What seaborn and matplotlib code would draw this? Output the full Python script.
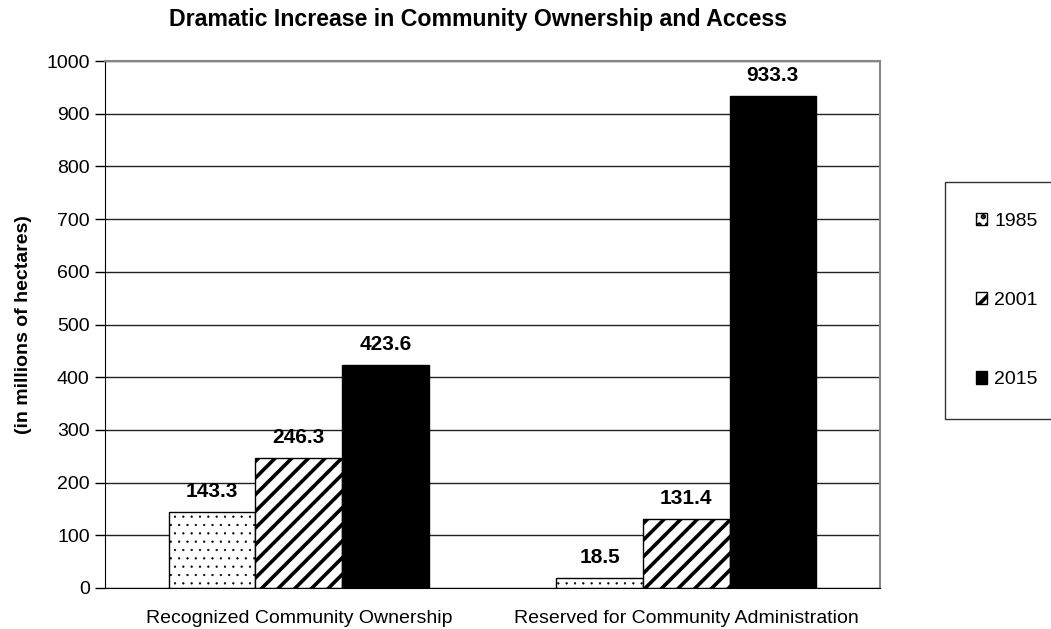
import pandas as pd
import matplotlib.pyplot as plt
import seaborn as sns

# data
categories = ["Recognized Community Ownership", "Reserved for Community Administration"]
years = ["1985", "2001", "2015"]
v1985 = [143.3, 18.5]
v2001 = [246.3, 131.4]
v2015 = [423.6, 933.3]

rows = []
for yr, vals in zip(years, [v1985, v2001, v2015]):
    for cat, v in zip(categories, vals):
        rows.append({"category": cat, "year": yr, "value": v})
df = pd.DataFrame(rows)

sns.set_style("white")
plt.rcParams['font.family'] = ['Liberation Sans', 'DejaVu Sans']
plt.rcParams['hatch.linewidth'] = 2.6
plt.rcParams['text.color'] = 'black'
plt.rcParams['axes.labelcolor'] = 'black'
plt.rcParams['xtick.color'] = 'black'
plt.rcParams['ytick.color'] = 'black'

fig = plt.figure(figsize=(10.51, 6.29), dpi=100)
ax = fig.add_axes([105/1051, 1 - 588/629, (880-105)/1051, (588-61)/629])

sns.barplot(data=df, x="category", y="value", hue="year", order=categories,
            hue_order=years, palette=["white", "white", "black"],
            edgecolor="black", linewidth=1, width=0.67, gap=0, ax=ax)

hatches = ["..", "//", ""]
for cont, h in zip(ax.containers, hatches):
    for bar in cont:
        bar.set_hatch(h)
        if h == "..":
            try:
                bar.set_hatch_linewidth(0.4)
            except AttributeError:
                pass
    ax.bar_label(cont, fmt="%.1f", padding=8, fontsize=15, fontweight="bold",
                 color="black")

ax.get_legend().remove()

ax.set_ylim(0, 1000)
ax.set_yticks(range(0, 1001, 100))
ax.yaxis.grid(True, color="#222222", linewidth=1)
ax.set_axisbelow(True)
ax.tick_params(axis="y", direction="out", length=7, width=1, color="black",
               labelsize=14, pad=4, left=True)
ax.tick_params(axis="x", length=0, labelsize=14, pad=16)
ax.set_xlabel("")
ax.set_ylabel("(in millions of hectares)", fontsize=14, fontweight="bold", labelpad=10)
ax.set_title("Dramatic Increase in Community Ownership and Access",
             fontsize=16.7, fontweight="bold", pad=25, color="black", x=0.481)

for side in ["left", "bottom"]:
    ax.spines[side].set_color("black")
for side in ["top", "right"]:
    ax.spines[side].set_color("#888888")
    ax.spines[side].set_linewidth(1.5)

handles = [cont.patches[0] for cont in ax.containers]
leg = fig.legend(handles, years, loc="upper left",
                 bbox_to_anchor=(935/1051, 1 - 172/629), frameon=True,
                 fontsize=14, labelspacing=3.2, borderpad=1.6,
                 handlelength=0.6, handleheight=0.6, handletextpad=0.35,
                 fancybox=False, edgecolor="black")
leg.get_frame().set_linewidth(1)

fig.savefig("out.png", dpi=100)
